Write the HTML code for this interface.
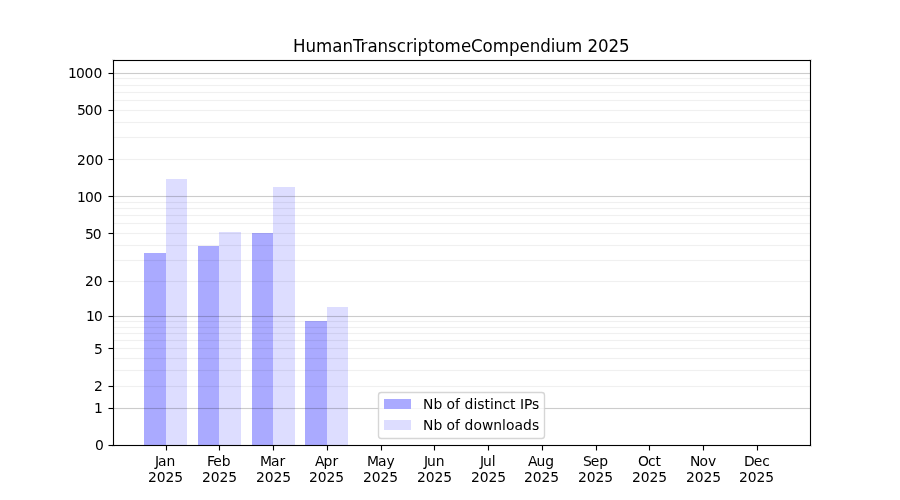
<!DOCTYPE html>
<html lang="en"><head><meta charset="utf-8"><title>HumanTranscriptomeCompendium 2025</title>
<style>
html,body{margin:0;padding:0;background:#fff;width:900px;height:500px;overflow:hidden}
svg{display:block}
text{font-family:"DejaVu Sans","Liberation Sans",sans-serif;fill:#000}
.t{font-size:13.889px}
.h{font-size:16.667px}
</style></head><body>
<svg width="900" height="500" viewBox="0 0 900 500">
<rect width="900" height="500" fill="#fff"/>
<g id="bars">
<rect x="144" y="253" width="22" height="192" fill="#aaaaff"/>
<rect x="166" y="179" width="21" height="266" fill="#ddddff"/>
<rect x="198" y="246" width="21" height="199" fill="#aaaaff"/>
<rect x="219" y="232" width="22" height="213" fill="#ddddff"/>
<rect x="252" y="233" width="21" height="212" fill="#aaaaff"/>
<rect x="273" y="187" width="22" height="258" fill="#ddddff"/>
<rect x="305" y="321" width="22" height="124" fill="#aaaaff"/>
<rect x="327" y="307" width="21" height="138" fill="#ddddff"/>
</g>
<g id="grid" fill="#000">
<rect x="114" y="72" width="696" height="3" fill-opacity="0.012"/><rect x="114" y="73" width="696" height="1" fill-opacity="0.19"/>
<rect x="114" y="195" width="696" height="3" fill-opacity="0.012"/><rect x="114" y="196" width="696" height="1" fill-opacity="0.19"/>
<rect x="114" y="315" width="696" height="3" fill-opacity="0.012"/><rect x="114" y="316" width="696" height="1" fill-opacity="0.19"/>
<rect x="114" y="407" width="696" height="3" fill-opacity="0.012"/><rect x="114" y="408" width="696" height="1" fill-opacity="0.19"/>
<rect x="114" y="77" width="696" height="3" fill-opacity="0.004"/><rect x="114" y="78" width="696" height="1" fill-opacity="0.055"/>
<rect x="114" y="84" width="696" height="3" fill-opacity="0.004"/><rect x="114" y="85" width="696" height="1" fill-opacity="0.055"/>
<rect x="114" y="91" width="696" height="3" fill-opacity="0.004"/><rect x="114" y="92" width="696" height="1" fill-opacity="0.055"/>
<rect x="114" y="99" width="696" height="3" fill-opacity="0.004"/><rect x="114" y="100" width="696" height="1" fill-opacity="0.055"/>
<rect x="114" y="109" width="696" height="3" fill-opacity="0.004"/><rect x="114" y="110" width="696" height="1" fill-opacity="0.055"/>
<rect x="114" y="121" width="696" height="3" fill-opacity="0.004"/><rect x="114" y="122" width="696" height="1" fill-opacity="0.055"/>
<rect x="114" y="136" width="696" height="3" fill-opacity="0.004"/><rect x="114" y="137" width="696" height="1" fill-opacity="0.055"/>
<rect x="114" y="158" width="696" height="3" fill-opacity="0.004"/><rect x="114" y="159" width="696" height="1" fill-opacity="0.055"/>
<rect x="114" y="201" width="696" height="3" fill-opacity="0.004"/><rect x="114" y="202" width="696" height="1" fill-opacity="0.055"/>
<rect x="114" y="207" width="696" height="3" fill-opacity="0.004"/><rect x="114" y="208" width="696" height="1" fill-opacity="0.055"/>
<rect x="114" y="214" width="696" height="3" fill-opacity="0.004"/><rect x="114" y="215" width="696" height="1" fill-opacity="0.055"/>
<rect x="114" y="222" width="696" height="3" fill-opacity="0.004"/><rect x="114" y="223" width="696" height="1" fill-opacity="0.055"/>
<rect x="114" y="232" width="696" height="3" fill-opacity="0.004"/><rect x="114" y="233" width="696" height="1" fill-opacity="0.055"/>
<rect x="114" y="244" width="696" height="3" fill-opacity="0.004"/><rect x="114" y="245" width="696" height="1" fill-opacity="0.055"/>
<rect x="114" y="259" width="696" height="3" fill-opacity="0.004"/><rect x="114" y="260" width="696" height="1" fill-opacity="0.055"/>
<rect x="114" y="280" width="696" height="3" fill-opacity="0.004"/><rect x="114" y="281" width="696" height="1" fill-opacity="0.055"/>
<rect x="114" y="320" width="696" height="3" fill-opacity="0.004"/><rect x="114" y="321" width="696" height="1" fill-opacity="0.055"/>
<rect x="114" y="326" width="696" height="3" fill-opacity="0.004"/><rect x="114" y="327" width="696" height="1" fill-opacity="0.055"/>
<rect x="114" y="332" width="696" height="3" fill-opacity="0.004"/><rect x="114" y="333" width="696" height="1" fill-opacity="0.055"/>
<rect x="114" y="339" width="696" height="3" fill-opacity="0.004"/><rect x="114" y="340" width="696" height="1" fill-opacity="0.055"/>
<rect x="114" y="347" width="696" height="3" fill-opacity="0.004"/><rect x="114" y="348" width="696" height="1" fill-opacity="0.055"/>
<rect x="114" y="357" width="696" height="3" fill-opacity="0.004"/><rect x="114" y="358" width="696" height="1" fill-opacity="0.055"/>
<rect x="114" y="369" width="696" height="3" fill-opacity="0.004"/><rect x="114" y="370" width="696" height="1" fill-opacity="0.055"/>
<rect x="114" y="385" width="696" height="3" fill-opacity="0.004"/><rect x="114" y="386" width="696" height="1" fill-opacity="0.055"/>
</g>
<g id="spines" fill="#000">
<rect x="112" y="59" width="700" height="3" fill-opacity="0.055"/>
<rect x="112" y="444" width="700" height="3" fill-opacity="0.055"/>
<rect x="112" y="59" width="3" height="388" fill-opacity="0.055"/>
<rect x="809" y="59" width="3" height="388" fill-opacity="0.055"/>
<rect x="113" y="60" width="698" height="1"/>
<rect x="113" y="445" width="698" height="1"/>
<rect x="113" y="60" width="1" height="386"/>
<rect x="810" y="60" width="1" height="386"/>
</g>
<g id="ticks" fill="#000">
<rect x="109" y="72" width="4" height="3" fill-opacity="0.055"/><rect x="108" y="72" width="1" height="3" fill-opacity="0.027"/><rect x="108" y="73" width="1" height="1" fill-opacity="0.487"/><rect x="109" y="73" width="4" height="1"/>
<rect x="109" y="109" width="4" height="3" fill-opacity="0.055"/><rect x="108" y="109" width="1" height="3" fill-opacity="0.027"/><rect x="108" y="110" width="1" height="1" fill-opacity="0.487"/><rect x="109" y="110" width="4" height="1"/>
<rect x="109" y="158" width="4" height="3" fill-opacity="0.055"/><rect x="108" y="158" width="1" height="3" fill-opacity="0.027"/><rect x="108" y="159" width="1" height="1" fill-opacity="0.487"/><rect x="109" y="159" width="4" height="1"/>
<rect x="109" y="195" width="4" height="3" fill-opacity="0.055"/><rect x="108" y="195" width="1" height="3" fill-opacity="0.027"/><rect x="108" y="196" width="1" height="1" fill-opacity="0.487"/><rect x="109" y="196" width="4" height="1"/>
<rect x="109" y="232" width="4" height="3" fill-opacity="0.055"/><rect x="108" y="232" width="1" height="3" fill-opacity="0.027"/><rect x="108" y="233" width="1" height="1" fill-opacity="0.487"/><rect x="109" y="233" width="4" height="1"/>
<rect x="109" y="280" width="4" height="3" fill-opacity="0.055"/><rect x="108" y="280" width="1" height="3" fill-opacity="0.027"/><rect x="108" y="281" width="1" height="1" fill-opacity="0.487"/><rect x="109" y="281" width="4" height="1"/>
<rect x="109" y="315" width="4" height="3" fill-opacity="0.055"/><rect x="108" y="315" width="1" height="3" fill-opacity="0.027"/><rect x="108" y="316" width="1" height="1" fill-opacity="0.487"/><rect x="109" y="316" width="4" height="1"/>
<rect x="109" y="347" width="4" height="3" fill-opacity="0.055"/><rect x="108" y="347" width="1" height="3" fill-opacity="0.027"/><rect x="108" y="348" width="1" height="1" fill-opacity="0.487"/><rect x="109" y="348" width="4" height="1"/>
<rect x="109" y="385" width="4" height="3" fill-opacity="0.055"/><rect x="108" y="385" width="1" height="3" fill-opacity="0.027"/><rect x="108" y="386" width="1" height="1" fill-opacity="0.487"/><rect x="109" y="386" width="4" height="1"/>
<rect x="109" y="407" width="4" height="3" fill-opacity="0.055"/><rect x="108" y="407" width="1" height="3" fill-opacity="0.027"/><rect x="108" y="408" width="1" height="1" fill-opacity="0.487"/><rect x="109" y="408" width="4" height="1"/>
<rect x="109" y="444" width="4" height="3" fill-opacity="0.055"/><rect x="108" y="444" width="1" height="3" fill-opacity="0.027"/><rect x="108" y="445" width="1" height="1" fill-opacity="0.487"/><rect x="109" y="445" width="4" height="1"/>
<rect x="165" y="446" width="3" height="4" fill-opacity="0.055"/><rect x="165" y="450" width="3" height="1" fill-opacity="0.027"/><rect x="166" y="450" width="1" height="1" fill-opacity="0.487"/><rect x="166" y="446" width="1" height="4"/>
<rect x="218" y="446" width="3" height="4" fill-opacity="0.055"/><rect x="218" y="450" width="3" height="1" fill-opacity="0.027"/><rect x="219" y="450" width="1" height="1" fill-opacity="0.487"/><rect x="219" y="446" width="1" height="4"/>
<rect x="272" y="446" width="3" height="4" fill-opacity="0.055"/><rect x="272" y="450" width="3" height="1" fill-opacity="0.027"/><rect x="273" y="450" width="1" height="1" fill-opacity="0.487"/><rect x="273" y="446" width="1" height="4"/>
<rect x="326" y="446" width="3" height="4" fill-opacity="0.055"/><rect x="326" y="450" width="3" height="1" fill-opacity="0.027"/><rect x="327" y="450" width="1" height="1" fill-opacity="0.487"/><rect x="327" y="446" width="1" height="4"/>
<rect x="380" y="446" width="3" height="4" fill-opacity="0.055"/><rect x="380" y="450" width="3" height="1" fill-opacity="0.027"/><rect x="381" y="450" width="1" height="1" fill-opacity="0.487"/><rect x="381" y="446" width="1" height="4"/>
<rect x="433" y="446" width="3" height="4" fill-opacity="0.055"/><rect x="433" y="450" width="3" height="1" fill-opacity="0.027"/><rect x="434" y="450" width="1" height="1" fill-opacity="0.487"/><rect x="434" y="446" width="1" height="4"/>
<rect x="487" y="446" width="3" height="4" fill-opacity="0.055"/><rect x="487" y="450" width="3" height="1" fill-opacity="0.027"/><rect x="488" y="450" width="1" height="1" fill-opacity="0.487"/><rect x="488" y="446" width="1" height="4"/>
<rect x="541" y="446" width="3" height="4" fill-opacity="0.055"/><rect x="541" y="450" width="3" height="1" fill-opacity="0.027"/><rect x="542" y="450" width="1" height="1" fill-opacity="0.487"/><rect x="542" y="446" width="1" height="4"/>
<rect x="595" y="446" width="3" height="4" fill-opacity="0.055"/><rect x="595" y="450" width="3" height="1" fill-opacity="0.027"/><rect x="596" y="450" width="1" height="1" fill-opacity="0.487"/><rect x="596" y="446" width="1" height="4"/>
<rect x="648" y="446" width="3" height="4" fill-opacity="0.055"/><rect x="648" y="450" width="3" height="1" fill-opacity="0.027"/><rect x="649" y="450" width="1" height="1" fill-opacity="0.487"/><rect x="649" y="446" width="1" height="4"/>
<rect x="702" y="446" width="3" height="4" fill-opacity="0.055"/><rect x="702" y="450" width="3" height="1" fill-opacity="0.027"/><rect x="703" y="450" width="1" height="1" fill-opacity="0.487"/><rect x="703" y="446" width="1" height="4"/>
<rect x="756" y="446" width="3" height="4" fill-opacity="0.055"/><rect x="756" y="450" width="3" height="1" fill-opacity="0.027"/><rect x="757" y="450" width="1" height="1" fill-opacity="0.487"/><rect x="757" y="446" width="1" height="4"/>
</g>
<g id="xlabels" class="t">
<text x="155 158 166.62" y="466">Jan</text><text x="148 156.75 165.5 174.25" y="482">2025</text>
<text x="207 213.25 221.75" y="466">Feb</text><text x="202 210.75 219.5 228.25" y="482">2025</text>
<text x="260 271 279.62" y="466">Mar</text><text x="256 264.75 273.5 282.25" y="482">2025</text>
<text x="315 323.5 332.38" y="466">Apr</text><text x="309 317.75 326.5 335.25" y="482">2025</text>
<text x="367 378 386.62" y="466">May</text><text x="363 371.75 380.5 389.25" y="482">2025</text>
<text x="424 427 435.75" y="466">Jun</text><text x="417 425.75 434.5 443.25" y="482">2025</text>
<text x="480 483 491.75" y="466">Jul</text><text x="471 479.75 488.5 497.25" y="482">2025</text>
<text x="528 536.5 545.25" y="466">Aug</text><text x="524 532.75 541.5 550.25" y="482">2025</text>
<text x="583 590.75 599.25" y="466">Sep</text><text x="578 586.75 595.5 604.25" y="482">2025</text>
<text x="638 647.88 655.5" y="466">Oct</text><text x="632 640.75 649.5 658.25" y="482">2025</text>
<text x="690 699.38 707.88" y="466">Nov</text><text x="686 694.75 703.5 712.25" y="482">2025</text>
<text x="744 753.75 762.25" y="466">Dec</text><text x="739 747.75 756.5 765.25" y="482">2025</text>
</g>
<g id="ylabels" class="t">
<text x="68 75.88 84.62 93.38" y="78">1000</text>
<text x="77 84.75 93.5" y="115">500</text>
<text x="77 85.75 94.5" y="165">200</text>
<text x="77 84.88 93.62" y="202">100</text>
<text x="85 92.75" y="239">50</text>
<text x="85 93.75" y="286">20</text>
<text x="86 93.88" y="321">10</text>
<text x="94" y="354">5</text>
<text x="94" y="391">2</text>
<text x="94" y="413">1</text>
<text x="95" y="450">0</text>
</g>
<text class="h" x="293 305.5 316 332.25 342.38 352.88 360.62 367.5 377.62 388.12 396.88 406 412.88 417.5 428 434.5 444.62 460.88 471.12 482.62 492.75 509 519.5 529.75 540.25 550.75 555.38 565.88 582.12 587.38 598 608.5 619.12" transform="translate(0 52) scale(1 1.07)">HumanTranscriptomeCompendium 2025</text>
<g id="legend">
<rect x="378.5" y="392.5" width="166" height="46" rx="2.8" ry="2.8" fill="#fff" fill-opacity="0.8" stroke="#ccc" stroke-opacity="0.8" stroke-width="1.39"/>
<rect x="384" y="399" width="27" height="10" fill="#aaaaff"/>
<rect x="384" y="420" width="27" height="10" fill="#ddddff"/>
<text class="t" x="423 433.38 442.25 446.62 455.12 460.12 464.5 473.38 477.25 484.38 489.88 493.75 502.5 510.12 515.62 520 524 532.12" y="409">Nb of distinct IPs</text>
<text class="t" x="423 433.38 442.25 446.62 455.12 460.12 464.5 473.38 481.88 493.25 502 505.88 514.38 523 531.88" y="430">Nb of downloads</text>
</g>
</svg></body></html>
